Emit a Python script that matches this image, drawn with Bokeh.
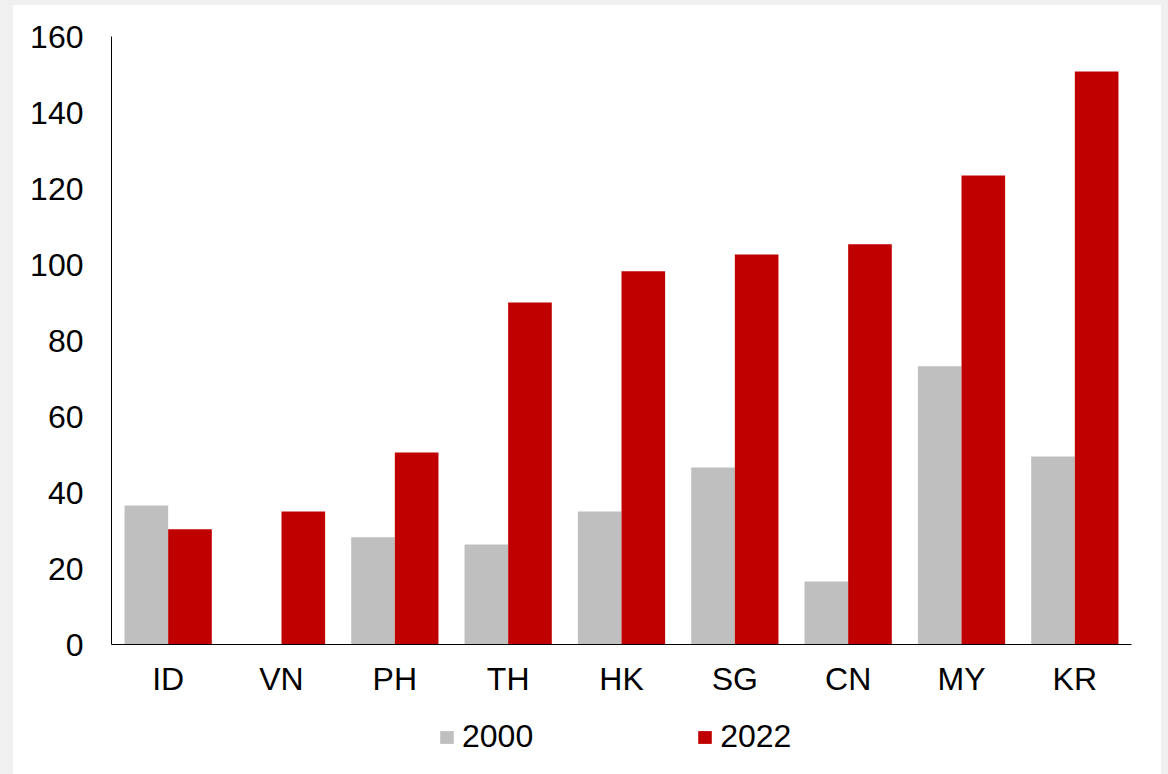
from bokeh.plotting import figure
from bokeh.models import FactorRange, Range1d, ColumnDataSource, Legend, LegendItem, FixedTicker
from bokeh.transform import dodge
from bokeh.layouts import column
from bokeh.embed import file_html
from bokeh.resources import INLINE

countries = ["ID", "VN", "PH", "TH", "HK", "SG", "CN", "MY", "KR"]
values_2000 = [36.6, 0, 28.2, 26.3, 35.0, 46.6, 16.6, 73.2, 49.5]
values_2022 = [30.3, 35.0, 50.5, 90.0, 98.2, 102.6, 105.3, 123.4, 150.8]
y_ticks = [0, 20, 40, 60, 80, 100, 120, 140, 160]
series_labels = ["2000", "2022"]

GRAY = "#BFBFBF"
RED = "#C00000"
FONT = "Liberation Sans"
FONT_SIZE = "32px"

source = ColumnDataSource(dict(country=countries, v2000=values_2000, v2022=values_2022))

# main bar chart
p = figure(
    width=1148, height=705,
    x_range=FactorRange(*countries, range_padding=0),
    y_range=Range1d(0, 160),
    output_backend="svg", toolbar_location=None,
    min_border_left=98, min_border_right=30, min_border_top=31, min_border_bottom=66,
    background_fill_color="white", border_fill_color="white",
)
p.outline_line_color = None
p.xgrid.grid_line_color = None
p.ygrid.grid_line_color = None

bw = 0.385
p.vbar(x=dodge("country", -bw / 2, range=p.x_range), top="v2000", width=bw,
       source=source, fill_color=GRAY, line_color=None)
p.vbar(x=dodge("country", bw / 2, range=p.x_range), top="v2022", width=bw,
       source=source, fill_color=RED, line_color=None)

p.yaxis.ticker = FixedTicker(ticks=y_ticks)
p.yaxis.major_tick_line_color = None
p.yaxis.minor_tick_line_color = None
p.yaxis.major_tick_out = 0
p.yaxis.major_label_standoff = 28
p.yaxis.axis_line_color = "#000000"
p.yaxis.major_label_text_font = FONT
p.yaxis.major_label_text_font_size = FONT_SIZE
p.yaxis.major_label_text_color = "#000000"

p.xaxis.major_tick_line_color = None
p.xaxis.major_tick_out = 0
p.xaxis.major_label_standoff = 16
p.xaxis.axis_line_color = "#000000"
p.xaxis.major_label_text_font = FONT
p.xaxis.major_label_text_font_size = FONT_SIZE
p.xaxis.major_label_text_color = "#000000"

# legend strip underneath the chart (transparent, sits on the white panel)
leg = figure(
    width=1148, height=64,
    x_range=Range1d(0, 1), y_range=Range1d(0, 1),
    x_axis_location=None, y_axis_location=None,
    output_backend="svg", toolbar_location=None,
    min_border=0, background_fill_color=None, border_fill_color=None,
)
leg.outline_line_color = None
leg.xgrid.visible = False
leg.ygrid.visible = False

# zero-size swatches, only used for the legend entries
swatch = ColumnDataSource(dict(x=[0.5], top=[0]))
k1 = leg.vbar(x="x", top="top", width=0, source=swatch, fill_color=GRAY, line_color=None)
k2 = leg.vbar(x="x", top="top", width=0, source=swatch, fill_color=RED, line_color=None)

legend = Legend(
    items=[LegendItem(label=series_labels[0], renderers=[k1]),
           LegendItem(label=series_labels[1], renderers=[k2])],
    orientation="horizontal", location=(327, 19),
    glyph_width=17, glyph_height=16, label_standoff=7, spacing=163,
    label_text_font=FONT, label_text_font_size=FONT_SIZE, label_text_color="#000000",
    border_line_color=None, background_fill_alpha=0,
    padding=0, margin=0,
)
leg.add_layout(legend, "center")

panel = column(p, leg, width=1148, height=769, spacing=0,
               styles={"background-color": "white"})
panel.margin = (5, 0, 0, 13)

page = column(panel, width=1168, height=774, styles={"background-color": "#f0f0f0"})

open("out.html", "w").write(file_html(page, INLINE))
